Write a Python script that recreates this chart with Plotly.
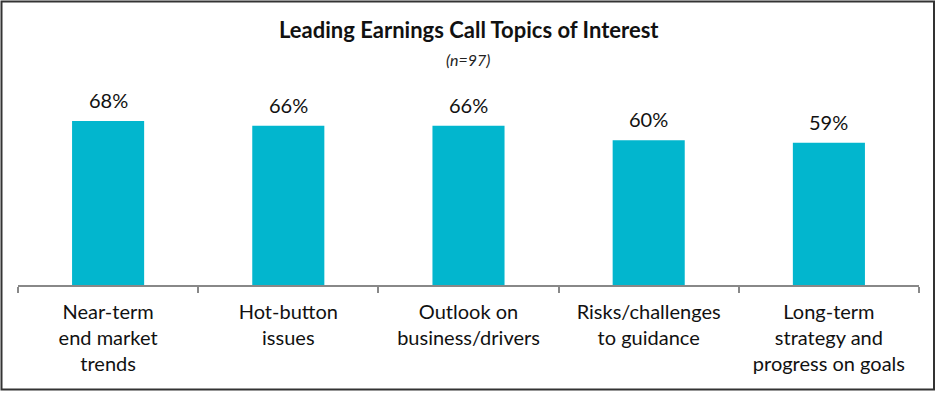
import plotly.graph_objects as go

categories = ["Near-term<br>end market<br>trends", "Hot-button<br>issues", "Outlook on<br>business/drivers",
              "Risks/challenges<br>to guidance", "Long-term<br>strategy and<br>progress on goals"]
values = [68, 66, 66, 60, 59]
value_labels = ["68%", "66%", "66%", "60%", "59%"]
title_text = "Leading Earnings Call Topics of Interest"
subtitle_text = "(n=97)"

W, H = 937, 395
ML, MR, MT, MB = 18, 18, 92, 110
pw, ph = W - ML - MR, H - MT - MB

def px_x(p):
    return (p - ML) / pw

def px_y(p):
    return (H - MB - p) / ph

FONT = "Lato"
fig = go.Figure()
fig.add_trace(go.Bar(x=categories, y=values, marker_color="#02B6CE", marker_line_width=0, width=0.4))

for c, v, t in zip(categories, values, value_labels):
    fig.add_annotation(x=c, y=v, text=t, showarrow=False, yanchor="bottom", yshift=7,
                       font=dict(family=FONT, size=20, color="#111"))

fig.add_annotation(xref="paper", yref="paper", x=px_x(469), y=px_y(30), text="<b>" + title_text + "</b>",
                   showarrow=False, font=dict(family=FONT, size=22, color="#111"), yanchor="middle")
fig.add_annotation(xref="paper", yref="paper", x=px_x(468), y=px_y(59), text="<i>" + subtitle_text + "</i>",
                   showarrow=False, font=dict(family=FONT, size=16, color="#222"), yanchor="middle")

fig.add_shape(type="rect", xref="paper", yref="paper", x0=px_x(1.5), x1=px_x(934), y0=px_y(1.5), y1=px_y(389.5),
              line=dict(color="#333", width=2), fillcolor="rgba(0,0,0,0)", layer="above")

fig.update_layout(
    width=W, height=H, margin=dict(l=ML, r=MR, t=MT, b=MB),
    paper_bgcolor="white", plot_bgcolor="white", showlegend=False,
    font=dict(family=FONT, size=20, color="#111"),
)
fig.update_xaxes(showline=True, linecolor="#888", linewidth=1.5, ticks="outside", tickson="boundaries",
                 ticklen=6, tickcolor="#888", tickwidth=1.5, tickfont=dict(family=FONT, size=20, color="#111"),
                 ticklabelstandoff=8, showgrid=False)
fig.update_yaxes(range=[0, 80], visible=False, showgrid=False)

fig.write_html("out.html")
